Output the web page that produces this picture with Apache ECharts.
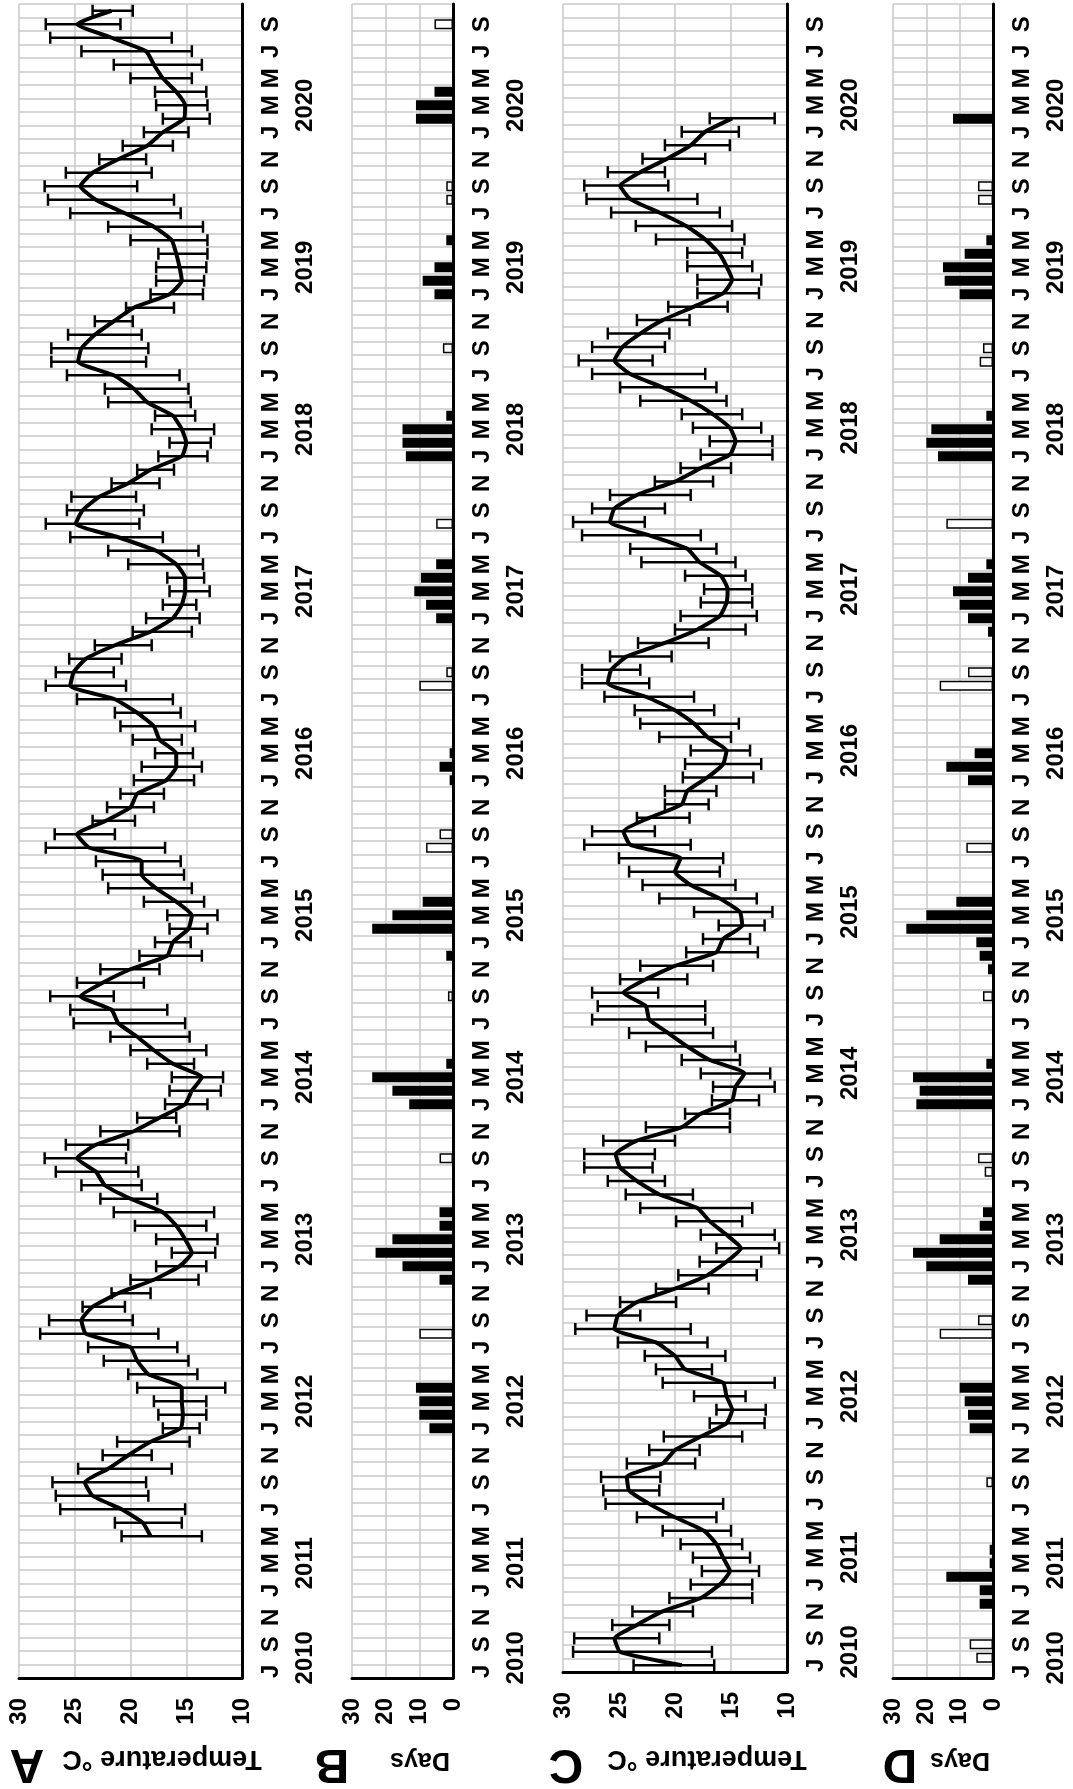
<!DOCTYPE html>
<html>
<head>
<meta charset="utf-8">
<script src="https://cdn.jsdelivr.net/npm/echarts@6/dist/echarts.min.js"></script>
<style>
  html, body { margin: 0; padding: 0; background: #ffffff; }
  #chart { width: 1073px; height: 1789px; }
</style>
</head>
<body>
<div id="chart"></div>
<script>
// monthly axis: Jul 2010 .. Oct 2020 (124 months), drawn bottom to top
const firstYear = 2010;
const firstMonth = 6; // July, 0-based
const monthCount = 124;
const monthLetters = ['J', 'F', 'M', 'A', 'M', 'J', 'J', 'A', 'S', 'O', 'N', 'D'];
const yearIndex = [1, 8, 20, 32, 44, 56, 68, 80, 92, 104, 116];
const yearNames = ['2010', '2011', '2012', '2013', '2014', '2015', '2016', '2017', '2018', '2019', '2020'];

// Panel A: monthly mean temperature with min / max, starts May 2011 (index 10)
const aStart = 10;
const aMean = [18.2, 18.9, 20.8, 23.4, 24.1, 22.0, 20.2, 18.2, 15.5, 15.3, 15.4, 15.4, 18.4, 19.4, 20.0, 24.0,
  24.4, 23.4, 21.1, 17.9, 15.6, 14.5, 15.1, 15.9, 17.1, 20.0, 22.3, 23.1, 24.8, 23.1, 19.7, 17.4,
  15.1, 14.5, 13.6, 16.2, 17.9, 19.4, 21.1, 21.7, 24.5, 22.5, 20.0, 16.7, 16.2, 14.8, 14.5, 15.9,
  17.7, 19.0, 19.0, 23.7, 24.8, 22.2, 20.0, 19.4, 16.8, 15.9, 15.9, 17.4, 17.9, 19.4, 21.4, 25.4,
  25.1, 24.0, 21.4, 18.2, 16.2, 15.4, 15.1, 15.1, 15.9, 17.7, 21.1, 24.9, 24.3, 22.8, 20.2, 18.2,
  15.4, 15.0, 15.4, 16.2, 18.5, 19.7, 21.5, 24.7, 24.4, 23.2, 21.5, 19.7, 16.5, 15.4, 15.6, 15.9,
  16.3, 17.9, 20.5, 23.1, 24.5, 23.4, 21.1, 18.5, 17.1, 15.2, 15.1, 15.9, 17.1, 17.9, 18.6, 21.7,
  24.8, 21.7];
const aMin = [13.6, 15.4, 15.1, 18.4, 18.6, 16.3, 18.1, 14.7, 13.8, 13.2, 13.2, 11.5, 14.0, 14.8, 15.8, 17.5,
  19.8, 20.5, 18.2, 13.9, 13.2, 12.4, 12.2, 13.2, 12.5, 17.6, 19.0, 19.3, 20.4, 20.2, 15.6, 15.9,
  13.1, 11.9, 11.7, 14.3, 13.2, 14.7, 15.1, 16.7, 21.5, 18.8, 17.4, 13.6, 14.6, 13.1, 12.2, 13.4,
  14.5, 15.2, 15.5, 16.9, 21.4, 19.6, 17.9, 17.0, 14.3, 13.6, 14.4, 15.4, 14.2, 15.5, 16.2, 20.4,
  21.5, 20.8, 18.1, 14.5, 13.8, 14.1, 12.9, 13.4, 13.5, 13.9, 17.1, 19.2, 18.8, 19.5, 17.4, 16.1,
  13.1, 12.8, 12.5, 14.2, 14.6, 14.8, 15.6, 18.6, 18.4, 19.0, 19.8, 16.1, 13.5, 13.4, 13.2, 13.1,
  13.1, 13.5, 15.5, 16.1, 19.4, 18.1, 18.6, 16.2, 14.8, 12.9, 13.1, 13.2, 14.5, 13.6, 14.5, 16.3,
  20.9, 19.8];
const aMax = [20.8, 21.4, 26.3, 26.7, 27.0, 24.7, 22.5, 21.2, 17.1, 17.5, 17.9, 19.4, 20.2, 22.4, 23.8, 28.1,
  27.3, 24.3, 21.7, 20.0, 17.7, 16.3, 17.7, 19.6, 21.5, 22.7, 24.4, 26.7, 27.7, 25.8, 22.7, 19.4,
  16.9, 16.5, 16.3, 18.5, 20.0, 21.8, 25.1, 25.4, 27.2, 24.8, 22.7, 19.2, 17.8, 16.5, 16.7, 18.8,
  22.0, 22.5, 23.1, 27.6, 26.8, 23.4, 22.1, 20.9, 19.7, 19.0, 17.8, 19.8, 20.9, 21.4, 24.8, 27.6,
  26.7, 25.5, 23.2, 19.8, 18.6, 17.1, 16.5, 16.7, 20.2, 22.0, 25.4, 27.6, 25.7, 25.3, 21.7, 19.4,
  17.5, 16.5, 18.1, 17.8, 22.0, 22.3, 25.7, 27.1, 27.1, 25.6, 23.2, 20.4, 18.2, 17.7, 17.7, 17.5,
  20.0, 22.0, 25.4, 27.4, 27.7, 25.8, 22.8, 20.7, 18.8, 17.1, 17.7, 17.8, 20.0, 21.5, 24.4, 27.2,
  27.6, 23.4];

// Panel C: second site, Jul 2010 .. Feb 2020
const cStart = 0;
const cMean = [19.4, 24.9, 25.4, 23.4, 21.1, 17.7, 16.0, 15.1, 15.7, 16.3, 17.4, 20.0, 22.3, 24.1, 24.3, 21.1,
  20.0, 17.7, 15.4, 14.9, 15.4, 15.7, 19.1, 20.0, 21.7, 25.4, 25.1, 23.4, 20.0, 17.1, 15.4, 14.1,
  15.4, 16.9, 18.0, 21.4, 23.4, 24.9, 25.3, 23.4, 19.4, 17.7, 14.9, 14.6, 13.8, 16.9, 18.9, 20.6,
  22.3, 22.6, 24.6, 22.6, 20.0, 16.3, 15.7, 14.0, 14.2, 16.0, 18.6, 20.0, 19.5, 24.0, 24.6, 22.3,
  19.4, 18.9, 17.1, 15.7, 15.4, 17.1, 18.3, 20.0, 22.6, 26.0, 25.7, 24.3, 20.9, 18.0, 16.0, 15.4,
  15.3, 15.9, 17.8, 18.9, 22.3, 25.8, 25.4, 23.4, 20.0, 17.7, 15.1, 14.6, 15.1, 16.6, 18.6, 21.1,
  24.0, 25.4, 24.7, 23.1, 21.1, 18.3, 15.7, 14.9, 15.4, 16.1, 17.3, 19.0, 21.4, 24.0, 24.9, 23.1,
  20.7, 18.6, 17.3, 14.9];
const cMin = [16.5, 16.7, 21.4, 20.5, 18.4, 13.1, 13.1, 12.5, 13.3, 14.0, 15.0, 16.3, 15.7, 21.4, 21.3, 18.2,
  17.8, 14.0, 12.0, 11.9, 13.7, 11.1, 16.7, 15.5, 17.1, 18.6, 23.1, 19.9, 17.0, 12.7, 12.3, 10.7,
  11.1, 14.0, 13.1, 18.4, 20.9, 22.0, 21.8, 20.0, 15.1, 15.1, 12.5, 11.1, 11.5, 14.2, 14.6, 16.6,
  17.3, 17.3, 21.5, 18.9, 16.6, 12.6, 13.3, 12.0, 11.3, 12.7, 14.6, 16.0, 15.7, 18.6, 21.8, 18.7,
  17.0, 16.3, 13.0, 12.3, 13.3, 15.0, 14.3, 16.5, 18.3, 22.3, 23.1, 20.3, 17.0, 13.7, 12.7, 13.1,
  13.1, 13.7, 14.6, 16.3, 17.7, 22.7, 20.9, 18.6, 16.6, 15.0, 11.3, 11.3, 12.3, 14.0, 15.4, 16.3,
  17.3, 22.0, 20.9, 20.5, 18.7, 15.3, 12.5, 12.3, 13.1, 14.0, 13.8, 14.9, 16.0, 18.0, 20.6, 20.9,
  17.3, 15.1, 14.3, 11.1];
const cMax = [23.7, 29.1, 29.0, 25.6, 23.8, 20.5, 18.6, 17.6, 18.4, 19.5, 21.1, 23.4, 26.2, 26.4, 26.6, 24.3,
  22.3, 21.0, 16.9, 16.3, 18.3, 21.1, 21.7, 22.7, 25.1, 28.9, 27.9, 24.9, 21.7, 19.7, 17.8, 16.3,
  17.7, 19.9, 23.1, 24.4, 26.0, 28.1, 28.1, 26.4, 22.6, 19.1, 16.7, 16.6, 17.7, 19.4, 22.6, 24.1,
  27.4, 26.9, 27.4, 24.9, 23.1, 19.0, 17.5, 16.1, 18.3, 21.4, 22.9, 24.1, 25.0, 28.1, 27.4, 23.4,
  20.9, 20.9, 19.3, 19.1, 18.6, 21.4, 23.1, 23.6, 26.3, 28.3, 28.3, 25.8, 23.3, 20.0, 19.5, 17.7,
  17.4, 19.1, 23.0, 24.0, 28.3, 29.1, 27.4, 25.8, 21.8, 19.5, 17.7, 16.9, 18.4, 19.4, 23.1, 24.9,
  27.4, 28.6, 27.4, 26.0, 23.4, 20.6, 18.0, 18.0, 18.9, 18.9, 21.7, 23.5, 25.7, 27.9, 28.1, 26.0,
  22.9, 20.9, 19.4, 16.9];

// Panels B and D: days per month (month index, days); black = cold spells, white = warm spells
const bBlackIdx = [18, 19, 20, 21, 29, 30, 31, 32, 33, 34, 42, 43, 44, 45, 53, 55, 56, 57, 66, 67, 68,
  78, 79, 80, 81, 82, 90, 91, 92, 93, 102, 103, 104, 106, 115, 116, 117];
const bBlackDays = [7, 10, 10, 11, 4, 15, 23, 18, 4, 4, 13, 18, 24, 2, 2, 24, 18, 9, 1, 4, 1,
  5, 8, 11.5, 9.5, 5, 14, 15, 15, 2, 5.5, 9, 5.5, 2, 11, 11, 5.5];
const bWhiteIdx = [25, 38, 50, 61, 62, 73, 74, 85, 98, 109, 110, 122];
const bWhiteDays = [10, 4, 1.5, 8, 4, 10, 2, 5, 3, 2, 2, 5.5];

const dBlackIdx = [5, 6, 7, 8, 9, 18, 19, 20, 21, 29, 30, 31, 32, 33, 34, 42, 43, 44, 45, 52, 53, 54, 55,
  56, 57, 66, 67, 68, 77, 78, 79, 80, 81, 82, 90, 91, 92, 93, 102, 103, 104, 105, 106, 115];
const dBlackDays = [4, 4, 14, 1, 1, 7, 7.5, 8.5, 10, 7.5, 20, 24, 16, 4, 3, 23, 22, 24, 2, 1.5, 4, 5, 26,
  20, 11, 7.5, 14, 5.5, 1.5, 7.5, 10, 12, 7.5, 2, 16.5, 20, 18.5, 2, 10, 14.5, 15, 8.5, 2, 12];
const dWhiteIdx = [1, 2, 14, 25, 26, 37, 38, 50, 61, 73, 74, 85, 97, 98, 109, 110];
const dWhiteDays = [5, 7, 2, 16, 4.5, 2.5, 4.5, 3, 8, 16, 7.5, 14, 4, 3, 4.5, 4.5];

const FONT = '"Liberation Sans", Arial, Helvetica, sans-serif';
const GRID_GRAY = '#c8c8c8';

const months = [];
for (let i = 0; i < monthCount; i++) {
  const m = (firstMonth + i) % 12;
  const y = firstYear + Math.floor((firstMonth + i) / 12);
  months.push(y + '-' + (m + 1));
}
const yearMap = {};
yearIndex.forEach((idx, k) => { yearMap[idx] = yearNames[k]; });

function pad(start, values) {
  const out = new Array(monthCount).fill(null);
  values.forEach((v, k) => { out[start + k] = v; });
  return out;
}
function place(idx, values) {
  const out = new Array(monthCount).fill(null);
  idx.forEach((p, k) => { out[p] = values[k]; });
  return out;
}
function errData(start, lo, hi) {
  return lo.map((v, k) => [start + k, v, hi[k]]);
}

const panels = [
  { left: 19, width: 223, top: 4, height: 1674, kind: 'temp' },
  { left: 352, width: 101, top: 4, height: 1674, kind: 'days' },
  { left: 563, width: 224, top: 4, height: 1668, kind: 'temp' },
  { left: 893, width: 100, top: 4, height: 1674, kind: 'days' }
];

const labelFont = { color: '#000', fontFamily: FONT, fontWeight: 'bold', fontSize: 24 };

const grids = panels.map(p => ({ left: p.left, top: p.top, width: p.width, height: p.height }));

const xAxes = panels.map((p, g) => ({
  type: 'value',
  gridIndex: g,
  min: p.kind === 'temp' ? 10 : 0,
  max: 30,
  interval: p.kind === 'temp' ? 5 : 10,
  inverse: true,
  position: 'bottom',
  axisLine: { show: true, onZero: false, lineStyle: { color: '#000', width: 3 } },
  axisTick: { show: false },
  splitLine: { show: true, lineStyle: { color: GRID_GRAY, width: 1.5 } },
  axisLabel: Object.assign({ rotate: 90, margin: 20 }, labelFont)
}));

const yAxes = [];
panels.forEach((p, g) => {
  yAxes.push({
    type: 'category',
    gridIndex: g,
    data: months,
    position: 'right',
    boundaryGap: true,
    axisLine: { show: true, onZero: false, lineStyle: { color: '#000', width: 3 } },
    axisTick: { show: false },
    splitLine: { show: true, interval: 0, lineStyle: { color: GRID_GRAY, width: 1.5 } },
    axisLabel: Object.assign({
      rotate: 90, margin: 17, interval: 1,
      formatter: (v, i) => monthLetters[(firstMonth + i) % 12]
    }, labelFont)
  });
  yAxes.push({
    type: 'category',
    gridIndex: g,
    data: months,
    position: 'right',
    offset: 34,
    boundaryGap: true,
    axisLine: { show: false },
    axisTick: { show: false },
    splitLine: { show: false },
    axisLabel: Object.assign({
      rotate: 90, margin: 17, interval: 0,
      formatter: (v, i) => yearMap[i] || ''
    }, labelFont)
  });
});

function renderErr(params, api) {
  const yi = api.value(0);
  const lo = api.coord([api.value(1), yi]);
  const hi = api.coord([api.value(2), yi]);
  const cap = 6;
  const st = { stroke: '#000', lineWidth: 2.5 };
  return {
    type: 'group',
    children: [
      { type: 'line', shape: { x1: lo[0], y1: lo[1], x2: hi[0], y2: hi[1] }, style: st },
      { type: 'line', shape: { x1: lo[0], y1: lo[1] - cap, x2: lo[0], y2: lo[1] + cap }, style: st },
      { type: 'line', shape: { x1: hi[0], y1: hi[1] - cap, x2: hi[0], y2: hi[1] + cap }, style: st }
    ]
  };
}

function tempSeries(g, start, mean, lo, hi) {
  return [
    {
      type: 'custom', xAxisIndex: g, yAxisIndex: 2 * g,
      renderItem: renderErr,
      encode: { y: 0, x: [1, 2] },
      data: errData(start, lo, hi),
      silent: true, z: 2
    },
    {
      type: 'line', xAxisIndex: g, yAxisIndex: 2 * g,
      data: pad(start, mean),
      showSymbol: false, smooth: 0.15,
      lineStyle: { color: '#000', width: 4 },
      silent: true, z: 3
    }
  ];
}

function daySeries(g, blackIdx, blackDays, whiteIdx, whiteDays) {
  return [
    {
      type: 'bar', xAxisIndex: g, yAxisIndex: 2 * g,
      data: place(blackIdx, blackDays),
      barWidth: 10, barGap: '-100%',
      itemStyle: { color: '#000' },
      silent: true
    },
    {
      type: 'bar', xAxisIndex: g, yAxisIndex: 2 * g,
      data: place(whiteIdx, whiteDays),
      barWidth: 10, barGap: '-100%',
      itemStyle: { color: '#fff', borderColor: '#000', borderWidth: 1.5 },
      silent: true
    }
  ];
}

function flipped(text, x, y, size) {
  return {
    type: 'text', x: x, y: y, rotation: Math.PI,
    style: {
      text: text, x: 0, y: 0, align: 'center', verticalAlign: 'middle',
      fill: '#000', font: 'bold ' + size + 'px ' + FONT
    }
  };
}

const series = [].concat(
  tempSeries(0, aStart, aMean, aMin, aMax),
  daySeries(1, bBlackIdx, bBlackDays, bWhiteIdx, bWhiteDays),
  tempSeries(2, cStart, cMean, cMin, cMax),
  daySeries(3, dBlackIdx, dBlackDays, dWhiteIdx, dWhiteDays)
);

const chart = echarts.init(document.getElementById('chart'), null, { renderer: 'canvas' });
chart.setOption({
  backgroundColor: '#ffffff',
  animation: false,
  grid: grids,
  xAxis: xAxes,
  yAxis: yAxes,
  series: series,
  graphic: [
    flipped('A', 27, 1763, 48),
    flipped('Temperature °C', 162, 1758, 27),
    flipped('B', 332, 1763, 48),
    flipped('Days', 420, 1760, 25),
    flipped('C', 566, 1763, 48),
    flipped('Temperature °C', 707, 1758, 27),
    flipped('D', 900, 1763, 48),
    flipped('Days', 960, 1760, 25)
  ]
});
</script>
</body>
</html>
